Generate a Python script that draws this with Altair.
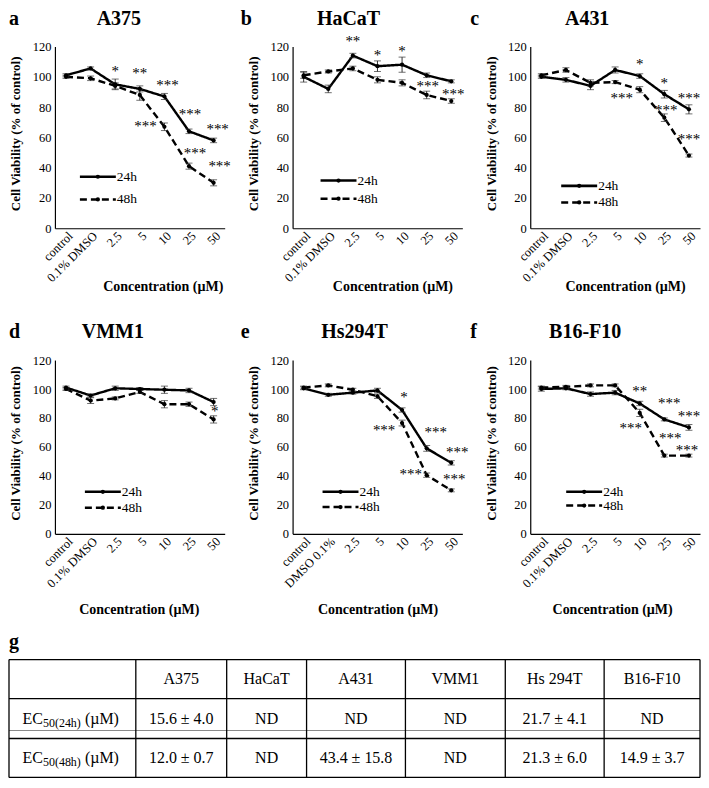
import altair as alt
import pandas as pd

FONT = "Liberation Serif"

# ---------------- data ----------------
conc = ["control", "0.1% DMSO", "2.5", "5", "10", "25", "50"]
conc_hs = ["control", "DMSO 0.1%", "2.5", "5", "10", "25", "50"]

a375_24 = [101, 105.5, 95, 92, 87, 64, 58]
a375_24_err = [1, 1, 3.5, 2, 2, 1.5, 1.5]
a375_48 = [100, 99, 94, 88, 67, 41, 30]
a375_48_err = [1, 1.5, 2, 3.5, 2.5, 2, 2]
a375_stars = [("2.5", 105, "*", 0), ("5", 104, "**", 0), ("10", 96, "***", 3),
              ("25", 77, "***", 1), ("50", 67, "***", 4), ("10", 69, "***", -19),
              ("25", 51, "***", 6), ("50", 42.5, "***", 6)]

hacat_24 = [100, 92, 114, 107, 108, 101, 97]
hacat_24_err = [3.5, 2.5, 1.5, 3.5, 5, 1.5, 1]
hacat_48 = [101, 103.5, 105.5, 98, 96, 88, 84]
hacat_48_err = [2, 1, 1.5, 2, 2, 2.5, 1.5]
hacat_stars = [("2.5", 125, "**", 0), ("5", 116, "*", 0), ("10", 118.5, "*", 0),
               ("25", 95, "***", 1), ("50", 90, "***", 2)]

a431_24 = [100, 98, 94, 104.5, 100.5, 88.5, 78.5]
a431_24_err = [1, 1.5, 2.5, 2, 1.5, 2.5, 3]
a431_48 = [101, 104.5, 96, 96.5, 91.5, 73, 48]
a431_48_err = [1, 1.5, 2, 1, 2, 2.5, 1]
a431_stars = [("10", 110, "*", 0), ("25", 97.5, "*", 0), ("50", 87, "***", 0),
              ("10", 87.5, "***", -18), ("25", 79.5, "***", 2), ("50", 60, "***", 0)]

vmm1_24 = [101, 95.5, 100.5, 100, 99.5, 99, 91]
vmm1_24_err = [1, 1, 1.5, 1, 2.5, 1.5, 2.5]
vmm1_48 = [100, 92, 93.5, 98, 89.5, 89.5, 79]
vmm1_48_err = [1, 2, 1, 1, 2.5, 1.5, 2.5]
vmm1_stars = [("50", 86, "*", 1)]

hs294t_24 = [100.5, 96, 97.5, 99, 85.5, 59, 49]
hs294t_24_err = [1, 1, 1, 1.5, 1.5, 2, 1.5]
hs294t_48 = [101, 102.5, 99.5, 95, 76.5, 40.5, 30]
hs294t_48_err = [1, 1, 1, 1.5, 2, 1.5, 1]
hs294t_stars = [("10", 96, "*", 2), ("10", 73, "***", -18), ("25", 72, "***", 9),
                ("50", 58, "***", 6), ("25", 43, "***", -16), ("50", 39, "***", 3)]

b16_24 = [100, 100.5, 96.5, 97.5, 90, 79, 73.5]
b16_24_err = [1.5, 1, 1.5, 1.5, 1.5, 1, 2]
b16_48 = [101, 101.5, 102.5, 102.5, 83.5, 54, 54]
b16_48_err = [1, 1, 1, 1, 2.5, 1, 1]
b16_stars = [("10", 100, "**", 0), ("25", 92, "***", 5), ("50", 82.5, "***", 0),
             ("10", 74.5, "***", -9), ("25", 67.5, "***", 6), ("50", 59.5, "***", -2)]

series_names = ["24h", "48h"]

table_cols = ["A375", "HaCaT", "A431", "VMM1", "Hs 294T", "B16-F10"]
ec50_24h = ["15.6 ± 4.0", "ND", "ND", "ND", "21.7 ± 4.1", "ND"]
ec50_48h = ["12.0 ± 0.7", "ND", "43.4 ± 15.8", "ND", "21.3 ± 6.0", "14.9 ± 3.7"]
ec50_sub = ["50(24h)", "50(48h)"]

# ---------------- layout ----------------
W = 170
H1 = 182
H2 = 174
DASHES = [[1, 0], [7, 4]]

dash = alt.StrokeDash("series:N", scale=alt.Scale(domain=series_names, range=DASHES),
                      legend=None)


def panel(cats, s24, e24, s48, e48, stars, name, letter, h,
          lx, lv, ttl_x, let_x, top_y, xt_x, xt_y):
    n = len(cats)
    df = pd.DataFrame({
        "conc": cats + cats,
        "idx": list(range(n)) * 2,
        "series": ["24h"] * n + ["48h"] * n,
        "v": s24 + s48,
        "err": e24 + e48,
    })
    df["lo"] = df["v"] - df["err"]
    df["hi"] = df["v"] + df["err"]

    xs = alt.Scale(type="point", domain=cats, padding=0.45)
    ys = alt.Scale(domain=[0, 120], nice=False)
    xaxis = alt.Axis(title="Concentration (µM)", labelAngle=-45, labelAlign="right",
                     labelBaseline="top", labelPadding=1, labelFontSize=12.5, labelFont=FONT,
                     labelColor="black", ticks=False, domainWidth=1.2, domainColor="black",
                     titleFont=FONT, titleFontSize=14, titleFontWeight="bold",
                     titleColor="black", titleX=xt_x, titleY=xt_y,
                     titleBaseline="middle", titleAlign="center", grid=False)
    yaxis = alt.Axis(title="Cell Viability (% of control)", values=[0, 20, 40, 60, 80, 100, 120],
                     ticks=False, labelPadding=4, labelFontSize=12.5, labelFont=FONT,
                     labelColor="black", domainWidth=1.2, domainColor="black",
                     titleFont=FONT, titleFontSize=13, titleFontWeight="bold",
                     titleColor="black", titleX=-32, titleY=h / 2 - 4, grid=False)
    X = alt.X("conc:N", scale=xs, axis=xaxis, sort=cats)

    def Y(f):
        return alt.Y(f, scale=ys, axis=yaxis)

    base = alt.Chart(df)
    line = base.mark_line(color="black", strokeWidth=2.4).encode(
        x=X, y=Y("v:Q"), strokeDash=dash, order="idx:Q")
    err = base.mark_rule(color="#333333", strokeWidth=1).encode(x=X, y=Y("lo:Q"), y2="hi:Q")
    cap_lo = base.mark_tick(color="#333333", thickness=1, size=7).encode(x=X, y=Y("lo:Q"))
    cap_hi = base.mark_tick(color="#333333", thickness=1, size=7).encode(x=X, y=Y("hi:Q"))
    pts = base.mark_point(filled=True, size=18, color="black", opacity=1).encode(x=X, y=Y("v:Q"))

    sdf = pd.DataFrame(stars, columns=["conc", "v", "t", "dx"])
    st = alt.Chart(sdf).mark_text(font=FONT, fontSize=15, dy=7, baseline="alphabetic",
                                  color="black").encode(
        x=X, y=Y("v:Q"), xOffset=alt.XOffset("dx:Q", scale=None), text="t:N")

    layers = [line, err, cap_lo, cap_hi, pts, st]
    for k, s in enumerate(series_names):
        ldf = pd.DataFrame({"s": [s], "lv": [lv[k]]})
        lbase = alt.Chart(ldf)
        layers.append(lbase.mark_rule(color="black", strokeWidth=2.6, strokeDash=DASHES[k]).encode(
            x=alt.value(lx), x2=alt.value(lx + 36), y=Y("lv:Q")))
        layers.append(lbase.mark_point(filled=True, size=18, color="black", opacity=1).encode(
            x=alt.value(lx + 18), y=Y("lv:Q")))
        layers.append(lbase.mark_text(font=FONT, fontSize=13.5, align="left", baseline="middle",
                                      color="black").encode(
            x=alt.value(lx + 37), y=Y("lv:Q"), text="s:N"))

    tdf = pd.DataFrame({"t": [name], "l": [letter]})
    layers.append(alt.Chart(tdf).mark_text(font=FONT, fontSize=20, fontWeight="bold",
                                           align="center", baseline="middle",
                                           color="black").encode(
        x=alt.value(ttl_x), y=alt.value(top_y), text="t:N"))
    layers.append(alt.Chart(tdf).mark_text(font=FONT, fontSize=20, fontWeight="bold",
                                           align="left", baseline="middle",
                                           color="black").encode(
        x=alt.value(let_x), y=alt.value(top_y), text="l:N"))

    return alt.layer(*layers).properties(width=W, height=h)


pa = panel(conc, a375_24, a375_24_err, a375_48, a375_48_err, a375_stars, "A375", "a", H1,
           25, [34, 19], 64, -46, -28, 108, 58)
pb = panel(conc, hacat_24, hacat_24_err, hacat_48, hacat_48_err, hacat_stars, "HaCaT", "b", H1,
           28, [31.5, 19.5], 56, -52, -28, 100, 58)
pc = panel(conc, a431_24, a431_24_err, a431_48, a431_48_err, a431_stars, "A431", "c", H1,
           31, [28, 17], 57, -60, -28, 95, 58)
pd_ = panel(conc, vmm1_24, vmm1_24_err, vmm1_48, vmm1_48_err, vmm1_stars, "VMM1", "d", H2,
            30, [29, 18], 58, -46, -28, 84, 76)
pe = panel(conc_hs, hs294t_24, hs294t_24_err, hs294t_48, hs294t_48_err, hs294t_stars, "Hs294T",
           "e", H2, 30, [29, 18.5], 62, -52, -28, 85, 76)
pf = panel(conc, b16_24, b16_24_err, b16_48, b16_48_err, b16_stars, "B16-F10", "f", H2,
           36, [29, 19.5], 55, -60, -28, 82, 76)

# ---------------- table ----------------
TH = 105
col_w = [127, 91, 80, 99, 100, 99, 96]
col_edges = [-46]
for w_ in col_w:
    col_edges.append(col_edges[-1] + w_)
col_centers = [(col_edges[i] + col_edges[i + 1]) / 2 for i in range(len(col_w))]
h_lines = [-6, 33, 73, 112]
gray_y = 65
row_y = [13.5, 53, 92.5]

xq = alt.Scale(domain=[0, W], nice=False, zero=False)
yq = alt.Scale(domain=[0, TH], nice=False, zero=False, reverse=True)


def TX(f):
    return alt.X(f, scale=xq, axis=None)


def TY(f):
    return alt.Y(f, scale=yq, axis=None)


hl = pd.DataFrame({"x": [col_edges[0]] * len(h_lines), "x2": [col_edges[-1]] * len(h_lines),
                   "y": h_lines})
vl = pd.DataFrame({"x": col_edges, "y": [h_lines[0]] * len(col_edges),
                   "y2": [h_lines[-1]] * len(col_edges)})
gl = pd.DataFrame({"x": [col_edges[0]], "x2": [col_edges[-1]], "y": [gray_y]})

t_h = alt.Chart(hl).mark_rule(color="black", strokeWidth=1.3).encode(
    x=TX("x:Q"), x2="x2:Q", y=TY("y:Q"))
t_v = alt.Chart(vl).mark_rule(color="black", strokeWidth=1.3).encode(
    x=TX("x:Q"), y=TY("y:Q"), y2="y2:Q")
t_g = alt.Chart(gl).mark_rule(color="#8a8a8a", strokeWidth=1).encode(
    x=TX("x:Q"), x2="x2:Q", y=TY("y:Q"))

cells = []
for i, c in enumerate(table_cols):
    cells.append({"x": col_centers[i + 1], "y": row_y[0], "t": c})
    cells.append({"x": col_centers[i + 1], "y": row_y[1], "t": ec50_24h[i]})
    cells.append({"x": col_centers[i + 1], "y": row_y[2], "t": ec50_48h[i]})
cdf = pd.DataFrame(cells)
t_cells = alt.Chart(cdf).mark_text(font=FONT, fontSize=16, align="center", baseline="middle",
                                   color="black").encode(x=TX("x:Q"), y=TY("y:Q"), text="t:N")

lab_x = col_edges[0] + 34
ec_df = pd.DataFrame({"x": [lab_x, lab_x], "y": row_y[1:], "t": ["EC", "EC"]})
sub_df = pd.DataFrame({"x": [lab_x, lab_x], "y": row_y[1:], "t": ec50_sub})
unit_df = pd.DataFrame({"x": [lab_x + 42, lab_x + 42], "y": row_y[1:], "t": ["(µM)", "(µM)"]})
t_ec = alt.Chart(ec_df).mark_text(font=FONT, fontSize=16, align="right", baseline="middle",
                                  color="black").encode(x=TX("x:Q"), y=TY("y:Q"), text="t:N")
t_sub = alt.Chart(sub_df).mark_text(font=FONT, fontSize=12, align="left", baseline="middle",
                                    dy=4, color="black").encode(x=TX("x:Q"), y=TY("y:Q"), text="t:N")
t_unit = alt.Chart(unit_df).mark_text(font=FONT, fontSize=16, align="left", baseline="middle",
                                      color="black").encode(x=TX("x:Q"), y=TY("y:Q"), text="t:N")
gdf = pd.DataFrame({"x": [col_edges[0]], "y": [-24], "t": ["g"]})
t_g_letter = alt.Chart(gdf).mark_text(font=FONT, fontSize=20, fontWeight="bold", align="left",
                                      baseline="middle", color="black").encode(
    x=TX("x:Q"), y=TY("y:Q"), text="t:N")

table = alt.layer(t_g, t_h, t_v, t_cells, t_ec, t_sub, t_unit, t_g_letter).properties(
    width=W, height=TH)

chart = alt.concat(pa, pb, pc, pd_, pe, pf, table, columns=3,
                   spacing={"row": 132, "column": 68}, bounds="flush").properties(
    padding=0).configure_view(stroke=None).configure_axis(
    labelFont=FONT, titleFont=FONT).configure_text(font=FONT)

chart.save("out.html", embed_options={"renderer": "svg", "actions": False})
